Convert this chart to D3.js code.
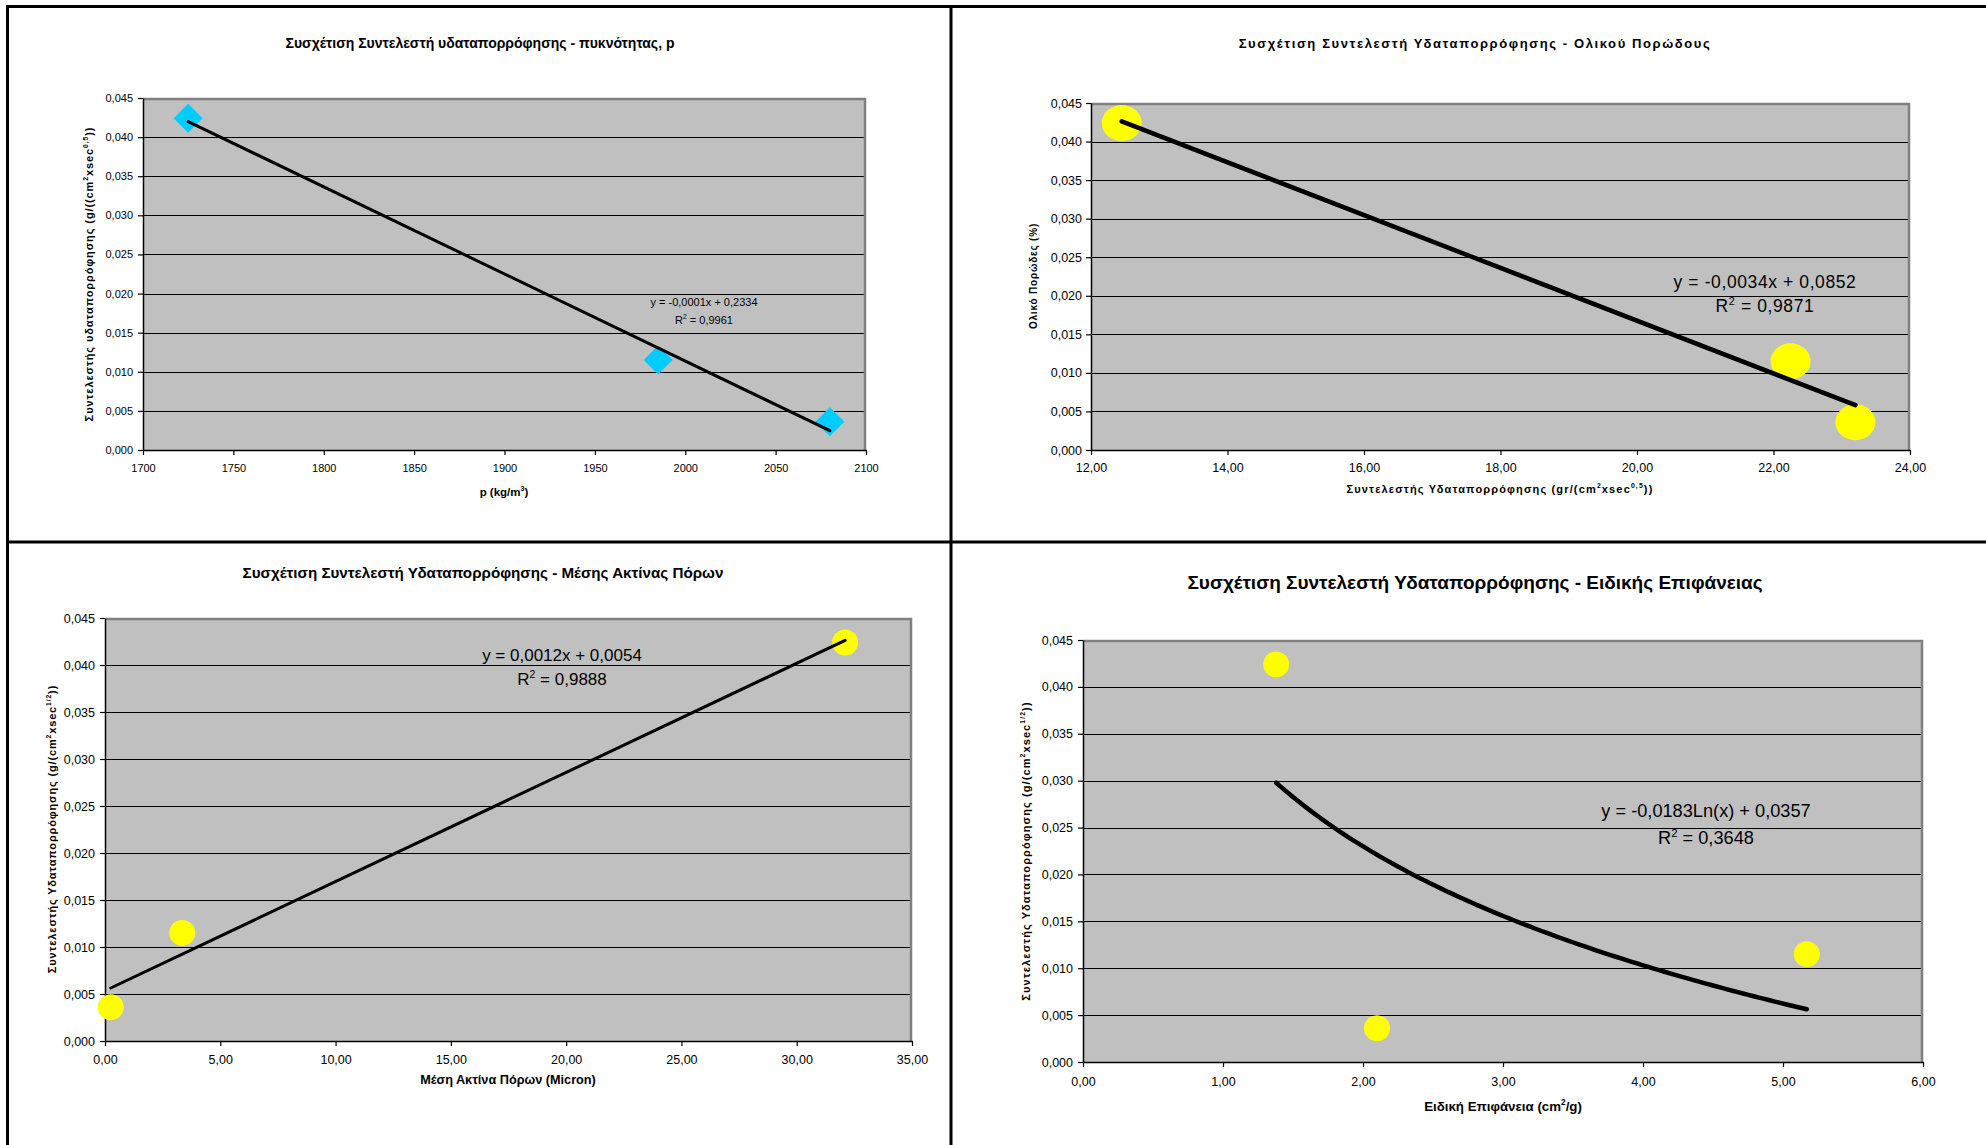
<!DOCTYPE html>
<html>
<head>
<meta charset="utf-8">
<script src="https://cdn.jsdelivr.net/npm/d3@7"></script>
<style>
  html, body { margin: 0; padding: 0; background: #fff; }
  svg { display: block; font-family: "Liberation Sans", Arial, Helvetica, sans-serif; }
</style>
</head>
<body>
<svg id="chart" width="1986" height="1145"></svg>
<script>
// Water absorption coefficient of the three samples (y values of every panel)
const absorption = [0.0424, 0.0115, 0.0036];
// Density p (kg/m3) of the same samples
const density = [1725, 1985, 2080];
// Values on the x axis of the total-porosity panel
const porosity = [12.45, 22.25, 23.2];
// Mean pore radius (Micron)
const poreRadius = [32.1, 3.35, 0.25];
// Specific surface (cm2/g)
const specificSurface = [1.38, 5.17, 2.10];

// Axis ticks
const yTicks = [0, 0.005, 0.010, 0.015, 0.020, 0.025, 0.030, 0.035, 0.040, 0.045];
const densityTicks = [1700, 1750, 1800, 1850, 1900, 1950, 2000, 2050, 2100];
const porosityTicks = [12, 14, 16, 18, 20, 22, 24];
const radiusTicks = [0, 5, 10, 15, 20, 25, 30, 35];
const surfaceTicks = [0, 1, 2, 3, 4, 5, 6];

// Texts
const titles = [
  "Συσχέτιση Συντελεστή υδαταπορρόφησης - πυκνότητας, p",
  "Συσχέτιση Συντελεστή Υδαταπορρόφησης - Ολικού Πορώδους",
  "Συσχέτιση Συντελεστή Υδαταπορρόφησης - Μέσης Ακτίνας Πόρων",
  "Συσχέτιση Συντελεστή Υδαταπορρόφησης - Ειδικής Επιφάνειας"
];
const xTitles = [
  "p (kg/m^{3})",
  "Συντελεστής Υδαταπορρόφησης (gr/(cm^{2}xsec^{0,5}))",
  "Μέση Ακτίνα Πόρων (Micron)",
  "Ειδική Επιφάνεια (cm^{2}/g)"
];
const yTitles = [
  "Συντελεστής υδαταπορρόφησης (g/((cm^{2}xsec^{0,5}))",
  "Ολικό Πορώδες (%)",
  "Συντελεστής Υδαταπορρόφησης (g/(cm^{2}xsec^{1/2}))",
  "Συντελεστής Υδαταπορρόφησης (g/(cm^{2}xsec^{1/2}))"
];
const equations = [
  "y = -0,0001x + 0,2334",
  "y = -0,0034x + 0,0852",
  "y = 0,0012x + 0,0054",
  "y = -0,0183Ln(x) + 0,0357"
];
const rSquared = ["R^{2} = 0,9961", "R^{2} = 0,9871", "R^{2} = 0,9888", "R^{2} = 0,3648"];

const locale = d3.formatLocale({ decimal: ",", thousands: ".", grouping: [3], currency: ["", "€"] });
const fmtY = locale.format(".3f");
const fmt2 = locale.format(".2f");
const fmtInt = locale.format("d");

const svg = d3.select("#chart");

// Writes text with ^{...} parts raised as superscripts
function richText(sel, str, size) {
  const parts = str.split(/\^\{([^}]*)\}/);
  const rise = size * 0.42;
  let pendingDy = 0;
  parts.forEach((p, i) => {
    if (p === "") return;
    if (i % 2 === 1) {
      sel.append("tspan").attr("dy", -rise + pendingDy).attr("font-size", size * 0.62).text(p);
      pendingDy = rise;
    } else {
      const t = sel.append("tspan").text(p);
      if (pendingDy) t.attr("dy", pendingDy);
      pendingDy = 0;
    }
  });
  return sel;
}

function linearFit(xs, ys) {
  const mx = d3.mean(xs), my = d3.mean(ys);
  let sxy = 0, sxx = 0;
  xs.forEach((v, i) => { sxy += (v - mx) * (ys[i] - my); sxx += (v - mx) * (v - mx); });
  const b = sxy / sxx;
  return { a: my - b * mx, b };
}

function drawPanel(cfg) {
  const g = svg.append("g");
  const x = d3.scaleLinear().domain(cfg.xDomain).range([cfg.left, cfg.right]);
  const y = d3.scaleLinear().domain([0, 0.045]).range([cfg.bottom, cfg.top]);

  // plot area
  g.append("rect")
    .attr("x", cfg.left).attr("y", cfg.top)
    .attr("width", cfg.right - cfg.left).attr("height", cfg.bottom - cfg.top)
    .attr("fill", "#c0c0c0");

  // horizontal gridlines
  g.append("g").selectAll("line")
    .data(yTicks.slice(1, -1)).join("line")
    .attr("x1", cfg.left).attr("x2", cfg.right)
    .attr("y1", d => Math.round(y(d)) + 0.5).attr("y2", d => Math.round(y(d)) + 0.5)
    .attr("stroke", "#000").attr("stroke-width", 1.2);

  // grey frame on top and right
  g.append("path")
    .attr("d", `M${cfg.left},${cfg.top + 1}H${cfg.right - 1}V${cfg.bottom}`)
    .attr("fill", "none").attr("stroke", "#808080").attr("stroke-width", 2.5);

  // axes
  const yAxis = d3.axisLeft(y).tickValues(yTicks).tickFormat(fmtY)
    .tickSizeInner(5).tickSizeOuter(0).tickPadding(cfg.yPad);
  const xAxis = d3.axisBottom(x).tickValues(cfg.xTicks).tickFormat(cfg.xFormat)
    .tickSizeInner(5).tickSizeOuter(0).tickPadding(cfg.xPad);

  const ya = g.append("g").attr("transform", `translate(${cfg.left},0)`).call(yAxis);
  const xa = g.append("g").attr("transform", `translate(0,${cfg.bottom})`).call(xAxis);
  [ya, xa].forEach(a => {
    a.select(".domain").attr("stroke", "#000").attr("stroke-width", 1.5);
    a.selectAll(".tick line").attr("stroke", "#000").attr("stroke-width", 1.2);
    a.selectAll(".tick text")
      .attr("fill", "#000")
      .attr("font-family", '"Liberation Sans", Arial, sans-serif')
      .attr("font-size", cfg.tickSize)
      .attr("letter-spacing", cfg.tickSpacing || 0);
  });

  // title
  g.append("text")
    .attr("x", cfg.titleX).attr("y", cfg.titleY).attr("dy", "0.35em")
    .attr("text-anchor", "middle").attr("font-weight", "bold")
    .attr("font-size", cfg.titleSize).attr("letter-spacing", cfg.titleSpacing || 0)
    .text(cfg.title);

  // axis titles
  richText(g.append("text")
    .attr("x", cfg.xTitleX).attr("y", cfg.xTitleY).attr("dy", "0.35em")
    .attr("text-anchor", "middle").attr("font-weight", "bold")
    .attr("font-size", cfg.xTitleSize).attr("letter-spacing", cfg.xTitleSpacing || 0),
    cfg.xTitle, cfg.xTitleSize);

  richText(g.append("text")
    .attr("transform", `translate(${cfg.yTitleX},${cfg.yTitleY}) rotate(-90)`)
    .attr("dy", "0.35em")
    .attr("text-anchor", "middle").attr("font-weight", "bold")
    .attr("font-size", cfg.yTitleSize).attr("letter-spacing", cfg.yTitleSpacing || 0),
    cfg.yTitle, cfg.yTitleSize);

  // markers
  const pts = cfg.xs.map((v, i) => [v, absorption[i]]);
  if (cfg.marker === "diamond") {
    g.append("g").selectAll("path").data(pts).join("path")
      .attr("d", d3.symbol(d3.symbolSquare, cfg.markerArea))
      .attr("transform", d => `translate(${x(d[0])},${y(d[1])}) rotate(45)`)
      .attr("fill", "#00ccff");
  } else {
    g.append("g").selectAll("ellipse").data(pts).join("ellipse")
      .attr("cx", d => x(d[0])).attr("cy", d => y(d[1]))
      .attr("rx", cfg.rx).attr("ry", cfg.ry)
      .attr("fill", "#ffff00");
  }

  // trendline (least squares, linear or logarithmic)
  const [xmin, xmax] = d3.extent(cfg.xs);
  let trend;
  if (cfg.logFit) {
    const fit = linearFit(cfg.xs.map(Math.log), absorption);
    trend = d3.range(0, 101).map(k => {
      const xv = xmin + (xmax - xmin) * k / 100;
      return [xv, fit.a + fit.b * Math.log(xv)];
    });
  } else {
    const fit = linearFit(cfg.xs, absorption);
    trend = [xmin, xmax].map(xv => [xv, fit.a + fit.b * xv]);
  }
  g.append("path")
    .attr("d", d3.line().x(d => x(d[0])).y(d => y(d[1]))(trend))
    .attr("fill", "none").attr("stroke", "#000")
    .attr("stroke-width", cfg.trendWidth).attr("stroke-linecap", "round");

  // trendline equation and R²
  g.append("text")
    .attr("x", cfg.eqX).attr("y", cfg.eqY).attr("dy", "0.35em")
    .attr("text-anchor", "middle").attr("font-size", cfg.eqSize)
    .attr("letter-spacing", cfg.eqSpacing || 0)
    .text(cfg.equation);
  richText(g.append("text")
    .attr("x", cfg.eqX).attr("y", cfg.r2Y).attr("dy", "0.35em")
    .attr("text-anchor", "middle").attr("font-size", cfg.eqSize)
    .attr("letter-spacing", cfg.eqSpacing || 0),
    cfg.r2, cfg.eqSize);
}

const panels = [
  {
    xs: density, xDomain: [1700, 2100], xTicks: densityTicks, xFormat: fmtInt,
    left: 143, right: 866, top: 98, bottom: 450,
    yPad: 5, xPad: 9, tickSize: 11,
    title: titles[0], titleX: 480, titleY: 43, titleSize: 14,
    xTitle: xTitles[0], xTitleX: 504, xTitleY: 492, xTitleSize: 11.5,
    yTitle: yTitles[0], yTitleX: 89, yTitleY: 274, yTitleSize: 11, yTitleSpacing: 0.9,
    marker: "diamond", markerArea: 420,
    trendWidth: 3,
    equation: equations[0], r2: rSquared[0], eqX: 704, eqY: 302, r2Y: 320, eqSize: 11
  },
  {
    xs: porosity, xDomain: [12, 24], xTicks: porosityTicks, xFormat: fmt2,
    left: 1091, right: 1910, top: 103, bottom: 450,
    yPad: 4, xPad: 8, tickSize: 12.5,
    title: titles[1], titleX: 1475, titleY: 43, titleSize: 13, titleSpacing: 1.6,
    xTitle: xTitles[1], xTitleX: 1500, xTitleY: 489, xTitleSize: 11, xTitleSpacing: 1.15,
    yTitle: yTitles[1], yTitleX: 1033, yTitleY: 276, yTitleSize: 10, yTitleSpacing: 0.8,
    marker: "ellipse", rx: 20, ry: 18,
    trendWidth: 4.5,
    equation: equations[1], r2: rSquared[1], eqX: 1765, eqY: 282, r2Y: 306, eqSize: 17.5, eqSpacing: 0.6
  },
  {
    xs: poreRadius, xDomain: [0, 35], xTicks: radiusTicks, xFormat: fmt2,
    left: 105, right: 912, top: 618, bottom: 1041,
    yPad: 5, xPad: 9, tickSize: 12.5,
    title: titles[2], titleX: 483, titleY: 573, titleSize: 15.2,
    xTitle: xTitles[2], xTitleX: 508, xTitleY: 1080, xTitleSize: 12.7,
    yTitle: yTitles[2], yTitleX: 52, yTitleY: 829, yTitleSize: 11, yTitleSpacing: 0.85,
    marker: "ellipse", rx: 13, ry: 13,
    trendWidth: 3,
    equation: equations[2], r2: rSquared[2], eqX: 562, eqY: 655, r2Y: 679, eqSize: 17
  },
  {
    xs: specificSurface, xDomain: [0, 6], xTicks: surfaceTicks, xFormat: fmt2,
    left: 1083, right: 1923, top: 640, bottom: 1062,
    yPad: 5, xPad: 10, tickSize: 12.5,
    title: titles[3], titleX: 1475, titleY: 582, titleSize: 19,
    xTitle: xTitles[3], xTitleX: 1503, xTitleY: 1106, xTitleSize: 13.3,
    yTitle: yTitles[3], yTitleX: 1026, yTitleY: 851, yTitleSize: 11, yTitleSpacing: 1.1,
    marker: "ellipse", rx: 13, ry: 13,
    trendWidth: 4.5, logFit: true,
    equation: equations[3], r2: rSquared[3], eqX: 1706, eqY: 811, r2Y: 838, eqSize: 18.2
  }
];

panels.forEach(drawPanel);

// panel frame lines
const frame = svg.append("g").attr("stroke", "#000").attr("stroke-width", 3);
frame.append("line").attr("x1", 6).attr("x2", 1986).attr("y1", 6.5).attr("y2", 6.5);
frame.append("line").attr("x1", 7.5).attr("x2", 7.5).attr("y1", 5).attr("y2", 1145);
frame.append("line").attr("x1", 951).attr("x2", 951).attr("y1", 5).attr("y2", 1145);
frame.append("line").attr("x1", 6).attr("x2", 1986).attr("y1", 542).attr("y2", 542);
</script>
</body>
</html>
